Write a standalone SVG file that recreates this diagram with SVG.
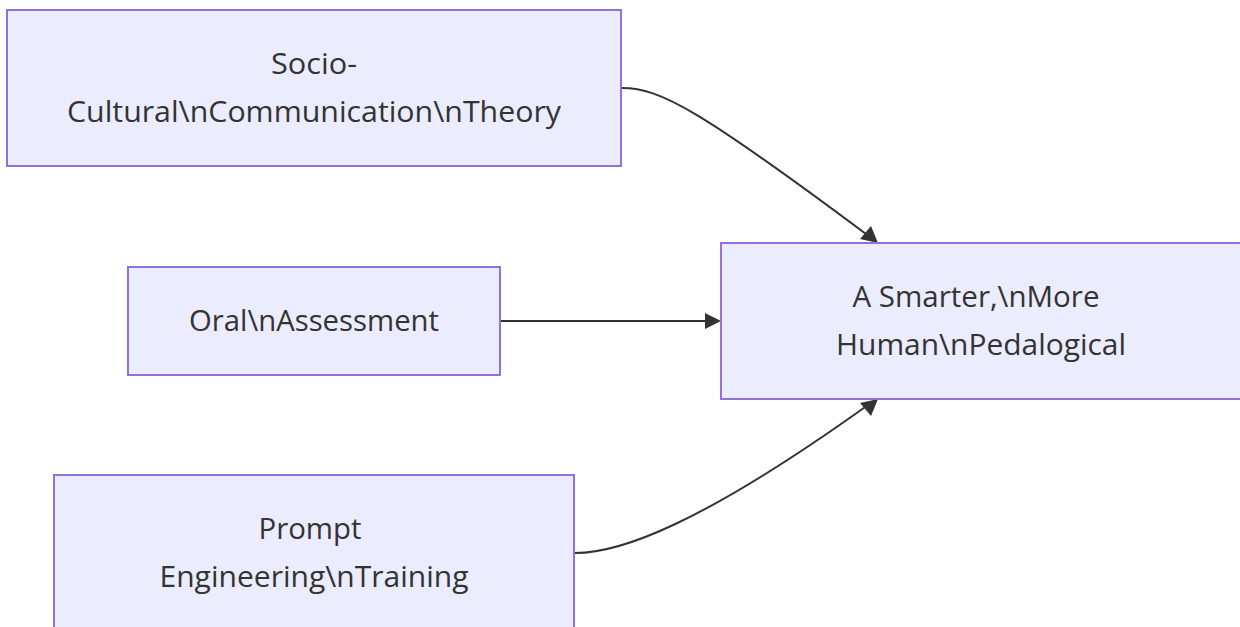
<svg xmlns="http://www.w3.org/2000/svg" width="1240" height="627" viewBox="0 0 1240 627">
<style>
.node rect{fill:#ECECFF;stroke:#9370DB;stroke-width:2}
.node text{font-family:"Open Sans","DejaVu Sans",sans-serif;font-size:30px;font-weight:500;fill:#333;text-anchor:middle}
.edge{fill:none;stroke:#333;stroke-width:2}
.head{fill:#333}
</style>
<rect width="1240" height="627" fill="#fff"/>
<g id="connectors">
<path class="edge" d="M622,88 C660,88 700,110 870,237"/>
<path class="edge" d="M500,321 L706,321"/>
<path class="edge" d="M575,553 C620,553 700,525 868,405"/>
<polygon class="head" points="878,243 860,239 871,226"/>
<polygon class="head" points="721,321 705,313 705,329"/>
<polygon class="head" points="878,399 871,416 860,403"/>
</g>
<g id="n1" class="node"><rect x="7" y="10" width="614" height="156"/><text x="314" y="74" textLength="86" lengthAdjust="spacingAndGlyphs">Socio-</text><text x="314" y="122" textLength="494" lengthAdjust="spacingAndGlyphs">Cultural\nCommunication\nTheory</text></g>
<g id="n2" class="node"><rect x="128" y="267" width="372" height="108"/><text x="314" y="331" textLength="250" lengthAdjust="spacingAndGlyphs">Oral\nAssessment</text></g>
<g id="n3" class="node"><rect x="54" y="475" width="520" height="156"/><text x="310" y="539" textLength="103" lengthAdjust="spacingAndGlyphs">Prompt</text><text x="314" y="587" textLength="309" lengthAdjust="spacingAndGlyphs">Engineering\nTraining</text></g>
<g id="n4" class="node"><rect x="721" y="243" width="524" height="156"/><text x="976" y="307" textLength="247" lengthAdjust="spacingAndGlyphs">A Smarter,\nMore</text><text x="981" y="355" textLength="290" lengthAdjust="spacingAndGlyphs">Human\nPedalogical</text></g>
</svg>
